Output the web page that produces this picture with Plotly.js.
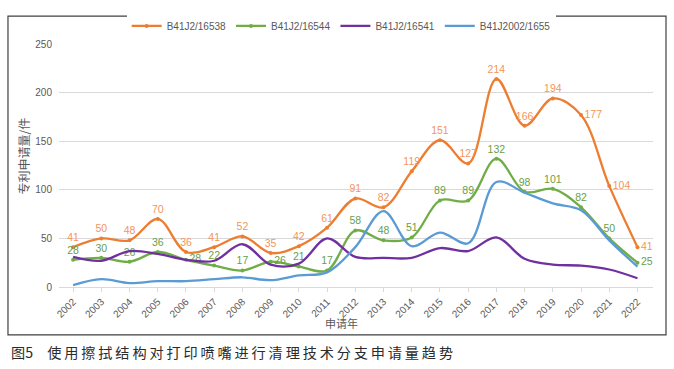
<!DOCTYPE html>
<html><head><meta charset="utf-8">
<script src="https://cdn.plot.ly/plotly-3.0.1.min.js"></script>
<style>html,body{margin:0;padding:0;background:#fff;}#chart{width:674px;height:369px;}</style>
</head><body><div id="chart"></div>
<script>
const years = ['2002','2003','2004','2005','2006','2007','2008','2009','2010','2011','2012','2013','2014','2015','2016','2017','2018','2019','2020','2021','2022'];
const s16538 = [41,50,48,70,36,41,52,35,42,61,91,82,119,151,127,214,166,194,177,104,41];
const s16544 = [28,30,26,36,28,22,17,26,21,17,58,48,51,89,89,132,98,101,82,50,25];
const s16541 = [31,27,37,34,28,27,44,23,24,50,31,30,30,40,37,51,29,23,22,18,9];
const s1655 = [2,8,4,6,6,8,10,7,12,15,41,78,42,56,45,108,97,86,79,48,21];
const names = ['B41J2/16538','B41J2/16544','B41J2/16541','B41J2002/1655'];
const colors = ['#ED7D31','#70AD47','#7030A0','#5B9BD5'];
const font = 'Liberation Sans, Arial, sans-serif';
const cjk = 'Noto Sans CJK SC, sans-serif';

function pos(rightIdx){ return years.map((y,i)=> rightIdx.includes(i) ? 'middle right' : 'top center'); }

const traces = [
 {x: years, y: s16538, name: names[0], mode:'lines+markers+text', line:{color:colors[0], width:2.3, shape:'spline', smoothing:1},
  marker:{size:4, color:colors[0]}, text: s16538.map(String), textposition: pos([18,19,20]), textfont:{family:font,size:10.5,color:'#F4955A'}, cliponaxis:false},
 {x: years, y: s16544, name: names[1], mode:'lines+markers+text', line:{color:colors[1], width:2.3, shape:'spline', smoothing:1},
  marker:{size:4, color:colors[1]}, text: s16544.map(String), textposition: pos([4,7,20]), textfont:{family:font,size:10.5,color:'#6A9E4A'}, cliponaxis:false},
 {x: years, y: s16541, name: names[2], mode:'lines', line:{color:colors[2], width:2.3, shape:'spline', smoothing:1}},
 {x: years, y: s1655, name: names[3], mode:'lines', line:{color:colors[3], width:2.3, shape:'spline', smoothing:1}}
];

const layout = {
 width:674, height:369,
 margin:{l:59, r:21, t:43, b:82},
 paper_bgcolor:'#fff', plot_bgcolor:'#fff',
 font:{family:font, size:10, color:'#595959'},
 showlegend:true,
 legend:{orientation:'h', x:0.475, xanchor:'center', y:1.07, yanchor:'middle', font:{family:font,size:10,color:'#595959'}, itemwidth:30, traceorder:'normal'},
 xaxis:{type:'category', range:[-0.5,20.55], tickangle:-45, showgrid:false, showline:true, linecolor:'#D9D9D9', linewidth:1,
   ticks:'outside', ticklen:4, tickcolor:'#D9D9D9', tickfont:{family:font,size:10,color:'#595959'}, fixedrange:true},
 yaxis:{range:[0,250], dtick:50, showgrid:true, gridcolor:'#D9D9D9', gridwidth:1, zeroline:false, showline:false,
   tickfont:{family:font,size:10,color:'#595959'}, ticklabelstandoff:6, fixedrange:true},
 shapes:[{type:'rect', xref:'paper', yref:'paper', x0:-0.0859, x1:1.0219, y0:-0.1967, y1:1.1148, line:{color:'#404040', width:1.2}, fillcolor:'rgba(0,0,0,0)', layer:'below'}],
 annotations:[
  {text:'专利申请量/件', xref:'paper', yref:'paper', x:-0.059, y:0.541, xanchor:'center', yanchor:'middle', textangle:-90, showarrow:false, font:{family:cjk,size:12,color:'#595959'}},
  {text:'申请年', xref:'paper', yref:'paper', x:0.475, y:-0.15, xanchor:'center', yanchor:'middle', showarrow:false, font:{family:cjk,size:11,color:'#595959'}},
  {text:'图5\u2003使\u2009用\u2009擦\u2009拭\u2009结\u2009构\u2009对\u2009打\u2009印\u2009喷\u2009嘴\u2009进\u2009行\u2009清\u2009理\u2009技\u2009术\u2009分\u2009支\u2009申\u2009请\u2009量\u2009趋\u2009势',
   xref:'paper', yref:'paper', x:-0.084, y:-0.268, xanchor:'left', yanchor:'middle', showarrow:false, font:{family:cjk,size:14.2,color:'#2b2b2b'}}
 ]
};
Plotly.newPlot('chart', traces, layout, {displayModeBar:false, staticPlot:true});
</script></body></html>
